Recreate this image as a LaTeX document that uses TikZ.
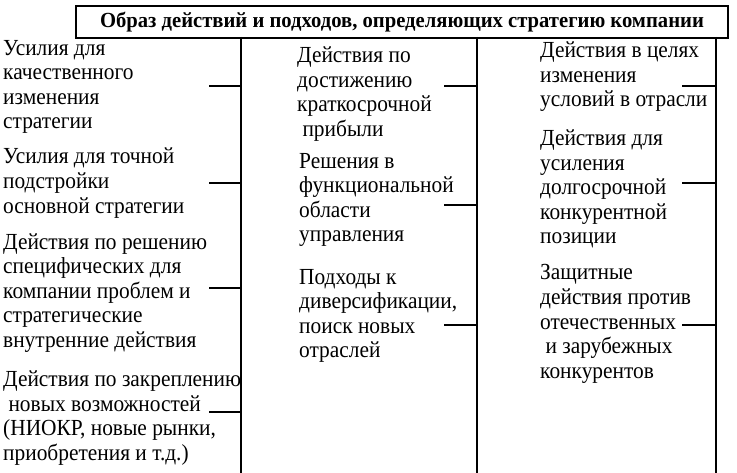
\documentclass[tikz,border=0pt]{standalone}
\usepackage{fontspec}
\setmainfont{Liberation Serif}[FakeStretch=0.93]
\newfontfamily\titlefont{Liberation Serif}[FakeStretch=0.96]
\begin{document}
\begin{tikzpicture}[x=1pt,y=-1pt,
  txt/.style={anchor=west,align=left,inner sep=0pt,font=\fontsize{23}{24.6}\selectfont},
  ln/.style={line width=2pt}]
\useasboundingbox (0,0) rectangle (737,473);
\node[draw,line width=2pt,minimum width=652,minimum height=32,anchor=north west,inner sep=0pt,font=\titlefont\fontsize{21.5}{22}\selectfont\bfseries] (title) at (75,5) {Образ действий и подходов, определяющих стратегию компании};
\coordinate (a1) at (241,37); \coordinate (a2) at (241,473);
\coordinate (b1) at (477,37); \coordinate (b2) at (477,473);
\coordinate (c1) at (716,37); \coordinate (c2) at (716,473);
\draw[ln] (a1) -- (a2); \draw[ln] (b1) -- (b2); \draw[ln] (c1) -- (c2);
% left
\node[txt] (l1) at (3,87) {Усилия для\\качественного\\изменения\\стратегии};
\node[txt] (l2) at (3,183) {Усилия для точной\\подстройки\\основной стратегии};
\node[txt] (l3) at (3,293) {Действия по решению\\специфических для\\компании проблем и\\стратегические\\внутренние действия};
\node[txt] (l4) at (3,418) {Действия по закреплению\\\ новых возможностей\\(НИОКР, новые рынки,\\приобретения и т.д.)};
% middle
\node[txt] (m1) at (297,94) {Действия по\\достижению\\краткосрочной\\\ прибыли};
\node[txt] (m2) at (299,200) {Решения в\\функциональной\\области\\управления};
\node[txt] (m3) at (299,316) {Подходы к\\диверсификации,\\поиск новых\\отраслей};
% right
\node[txt] (r1) at (540,77) {Действия в целях\\изменения\\условий в отрасли};
\node[txt] (r2) at (540,189) {Действия для\\усиления\\долгосрочной\\конкурентной\\позиции};
\node[txt] (r3) at (540,324) {Защитные\\действия против\\отечественных\\\ и зарубежных\\конкурентов};
\coordinate (tl1) at (209,86); \coordinate (tl2) at (209,183); \coordinate (tl3) at (209,288); \coordinate (tl4) at (209,412);
\coordinate (tm1) at (444,86); \coordinate (tm2) at (444,205); \coordinate (tm3) at (444,325);
\coordinate (tr1) at (682,86); \coordinate (tr2) at (682,183); \coordinate (tr3) at (682,325);
\draw[ln] (tl1) -- (tl1 -| a1); \draw[ln] (tl2) -- (tl2 -| a1); \draw[ln] (tl3) -- (tl3 -| a1); \draw[ln] (tl4) -- (tl4 -| a1);
\draw[ln] (tm1) -- (tm1 -| b1); \draw[ln] (tm2) -- (tm2 -| b1); \draw[ln] (tm3) -- (tm3 -| b1);
\draw[ln] (tr1) -- (tr1 -| c1); \draw[ln] (tr2) -- (tr2 -| c1); \draw[ln] (tr3) -- (tr3 -| c1);
\end{tikzpicture}
\end{document}
